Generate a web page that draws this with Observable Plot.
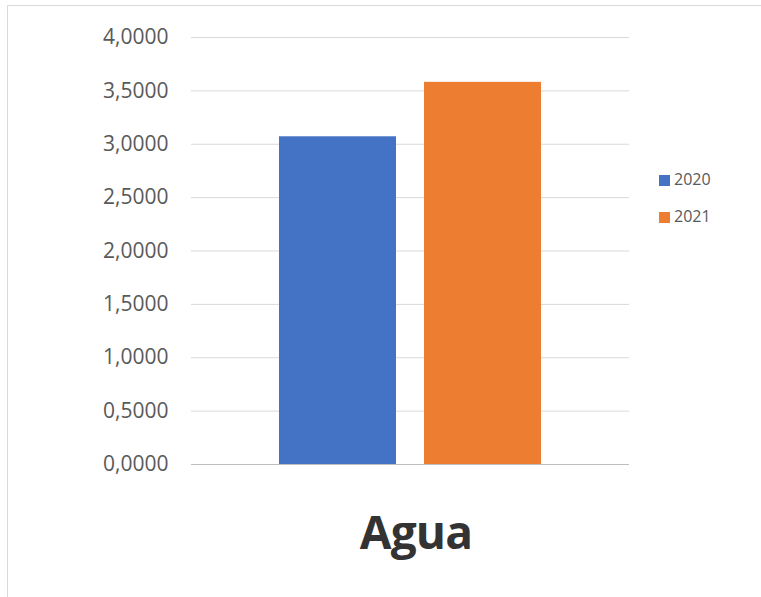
<!DOCTYPE html>
<html>
<head>
<meta charset="utf-8">
<script src="https://cdn.jsdelivr.net/npm/d3@7"></script>
<script src="https://cdn.jsdelivr.net/npm/@observablehq/plot@0.6"></script>
<style>
  html, body { margin: 0; padding: 0; background: #fff; }
  body { width: 761px; height: 597px; position: relative; overflow: hidden; font-family: "Open Sans", sans-serif; }
  #frame { position: absolute; left: 7px; top: 5px; width: 770px; height: 600px; border-left: 1px solid #d9d9d9; border-top: 1px solid #d9d9d9; }
  #chart { position: absolute; left: 0; top: 0; }
  #legend { position: absolute; left: 659px; top: 169px; color: #595959; font-size: 16px; }
  .item { position: absolute; left: 0; white-space: nowrap; line-height: 20px; }
  .sw { display: inline-block; width: 11px; height: 11px; margin-right: 4px; vertical-align: -1px; }
  #title { position: absolute; left: 0; width: 832px; top: 500px; text-align: center; font-weight: bold; font-size: 46px; color: #333333; letter-spacing: -0.8px; }
</style>
</head>
<body>
<div id="frame"></div>
<div id="chart"></div>
<div id="legend"></div>
<div id="title"></div>
<script>
const categories = ["2020", "2021"];
const values = [3.07, 3.58];
const colors = ["#4472c4", "#ed7d31"];
const yTicks = [0, 0.5, 1, 1.5, 2, 2.5, 3, 3.5, 4];
const categoryLabel = "Agua";

const data = categories.map((c, i) => ({year: c, value: values[i]}));
const fmt = d => d.toFixed(4).replace(".", ",");

const plot = Plot.plot({
  width: 761,
  height: 480,
  marginLeft: 191,
  marginRight: 132,
  marginTop: 37,
  marginBottom: 16,
  style: {fontFamily: "'Open Sans', sans-serif", fontSize: "21px", color: "#595959", background: "transparent"},
  x: {domain: categories, paddingInner: 0.193, paddingOuter: 0.606, axis: null},
  y: {domain: [0, 4]},
  color: {domain: categories, range: colors},
  marks: [
    Plot.ruleY(yTicks.filter(d => d > 0), {stroke: "#d9d9d9", strokeWidth: 1, strokeOpacity: 1}),
    Plot.barY(data, {x: "year", y: "value", fill: "year"}),
    Plot.ruleY([0], {stroke: "#bfbfbf", strokeWidth: 1.2, strokeOpacity: 1}),
    Plot.axisY({ticks: yTicks, tickFormat: fmt, tickSize: 0, tickPadding: 23, label: null, fill: "#595959"})
  ]
});
document.getElementById("chart").appendChild(plot);

const legend = document.getElementById("legend");
categories.forEach((c, i) => {
  const it = document.createElement("div");
  it.className = "item";
  it.style.top = (i * 37) + "px";
  const sw = document.createElement("span");
  sw.className = "sw";
  sw.style.background = colors[i];
  it.appendChild(sw);
  it.appendChild(document.createTextNode(c));
  legend.appendChild(it);
});
document.getElementById("title").textContent = categoryLabel;
</script>
</body>
</html>
